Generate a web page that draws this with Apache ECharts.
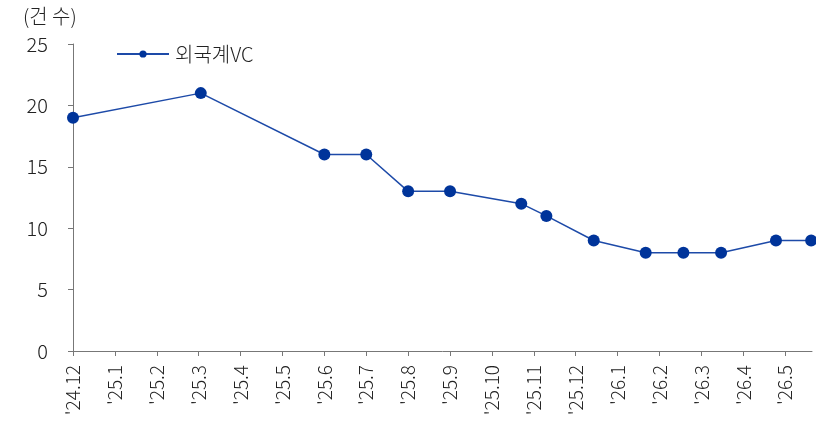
<!DOCTYPE html>
<html>
<head>
<meta charset="utf-8">
<script src="https://cdn.jsdelivr.net/npm/echarts@6/dist/echarts.min.js"></script>
<style>
  html, body { margin: 0; padding: 0; background: #fff; }
  #chart { width: 816px; height: 430px; }
</style>
</head>
<body>
<div id="chart"></div>
<script>
// 월별 눈금 라벨
const monthLabels = ["'24.12", "'25.1", "'25.2", "'25.3", "'25.4", "'25.5", "'25.6", "'25.7",
  "'25.8", "'25.9", "'25.10", "'25.11", "'25.12", "'26.1", "'26.2", "'26.3", "'26.4", "'26.5"];
// 데이터 위치 (월 인덱스, 월 중간 날짜는 소수)
const pointMonths = [0, 3.05, 6, 7, 8, 9, 10.7, 11.3, 12.43, 13.67, 14.57, 15.47, 16.78, 17.62];
// 외국계VC 건수
const vcCounts = [19, 21, 16, 16, 13, 13, 12, 11, 9, 8, 8, 8, 9, 9];

const font = "'Noto Sans CJK KR', 'Noto Sans', sans-serif";
const fw = 300;
const tickIdx = monthLabels.map((_, i) => i);

const chart = echarts.init(document.getElementById("chart"));
chart.setOption({
  animation: false,
  textStyle: { fontFamily: font },
  title: {
    text: "(건 수)",
    left: 18,
    top: 1,
    textStyle: { fontSize: 20, fontWeight: fw, color: "#222", fontFamily: font },
  },
  legend: {
    left: 111,
    top: 39,
    itemWidth: 52,
    itemHeight: 9,
    itemGap: 6,
    textStyle: { fontSize: 20, fontWeight: fw, color: "#222", fontFamily: font, padding: [0, 0, 0, 1] },
    data: ["외국계VC"],
  },
  grid: { left: 73, right: 4, top: 44, bottom: 79, containLabel: false },
  xAxis: {
    type: "value",
    min: 0,
    max: 17.64,
    interval: 1,
    splitLine: { show: false },
    axisLine: { lineStyle: { color: "#777", width: 1 } },
    axisTick: { show: true, length: 5, customValues: tickIdx, lineStyle: { color: "#777" } },
    axisLabel: {
      customValues: tickIdx,
      rotate: 90,
      margin: 14,
      fontSize: 19,
      fontWeight: fw,
      color: "#222",
      fontFamily: font,
      formatter: (v) => monthLabels[Math.round(v)] || "",
    },
  },
  yAxis: {
    type: "value",
    min: 0,
    max: 25,
    interval: 5,
    splitLine: { show: false },
    axisLine: { show: true, lineStyle: { color: "#777", width: 1 } },
    axisTick: { show: true, length: 5, lineStyle: { color: "#777" } },
    axisLabel: { margin: 25, fontSize: 20, fontWeight: fw, color: "#222", fontFamily: font },
  },
  series: [
    {
      name: "외국계VC",
      type: "line",
      data: pointMonths.map((m, i) => [m, vcCounts[i]]),
      symbol: "circle",
      symbolSize: 12,
      clip: false,
      lineStyle: { color: "#1d4aa8", width: 1.5 },
      itemStyle: { color: "#00349a" },
    },
  ],
});
</script>
</body>
</html>
